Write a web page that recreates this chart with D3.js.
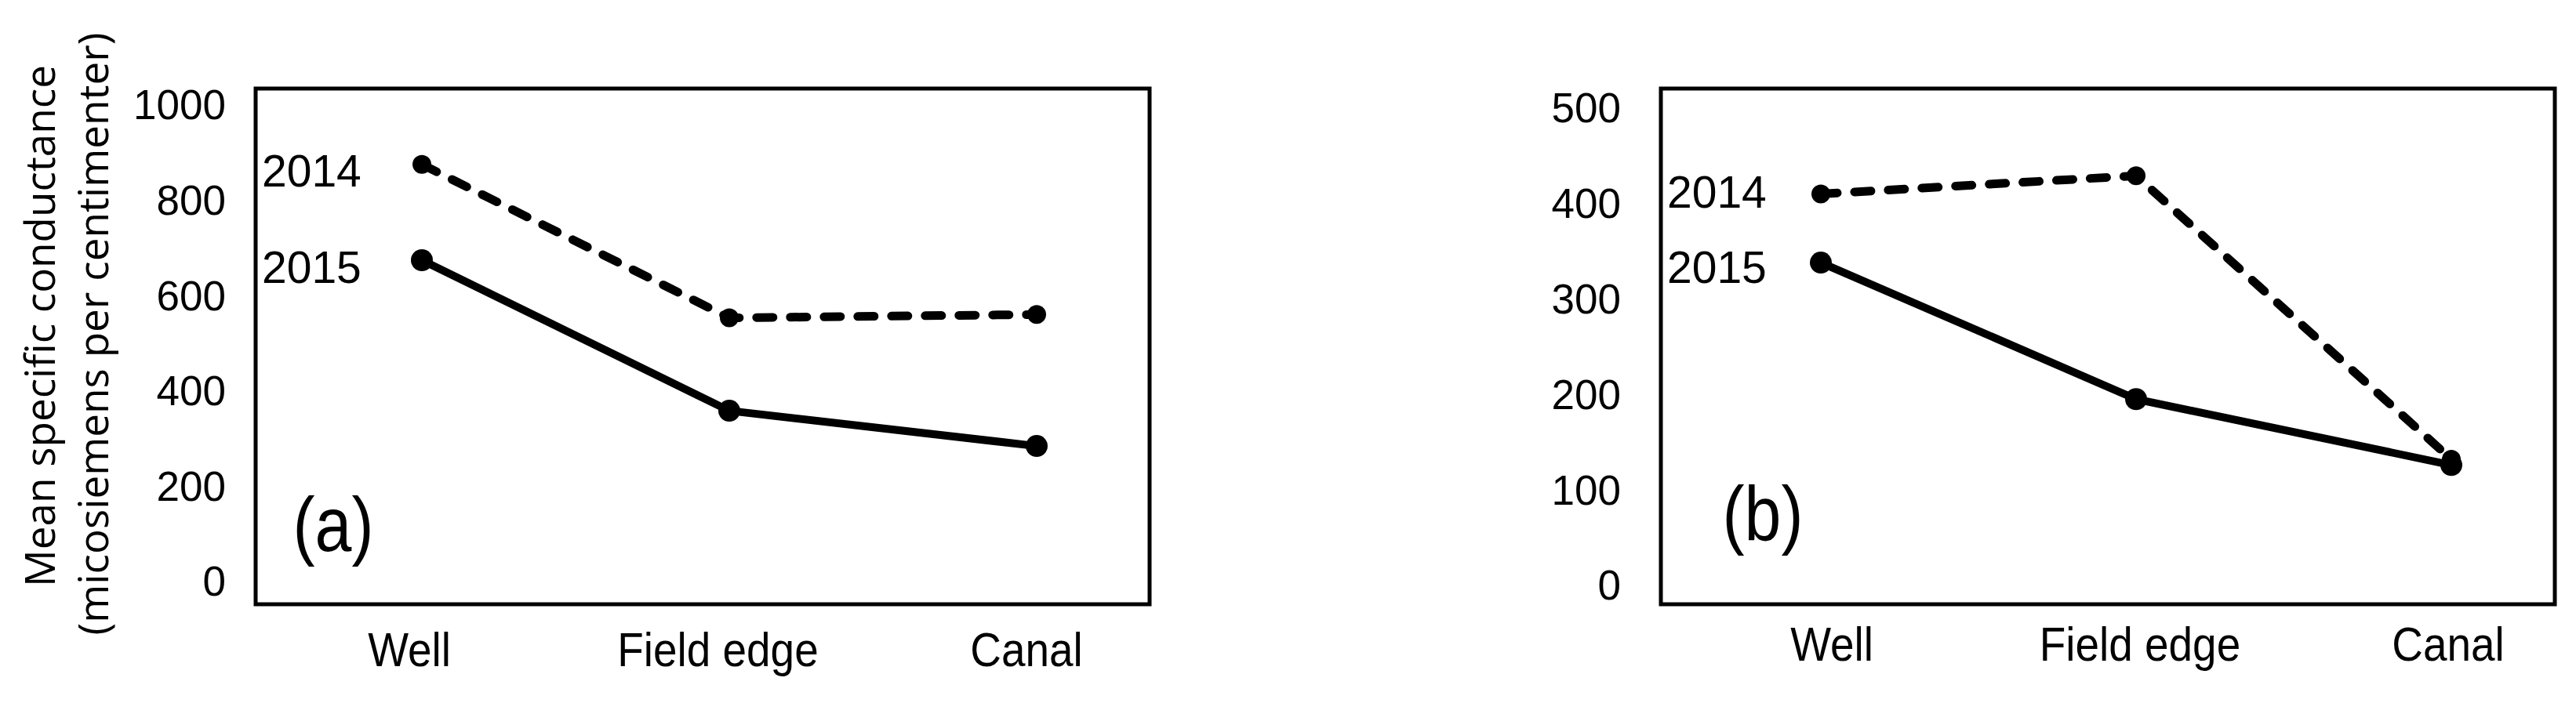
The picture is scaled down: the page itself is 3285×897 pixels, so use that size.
<!DOCTYPE html>
<html>
<head>
<meta charset="utf-8">
<script src="https://cdn.jsdelivr.net/npm/d3@7"></script>
<style>
  html, body { margin: 0; padding: 0; background: #fff; }
  svg { display: block; }
</style>
</head>
<body>
<svg id="chart" width="3285" height="897"></svg>
<script>
// ---- data ----
const categories = ["Well", "Field edge", "Canal"];
const years = ["2014", "2015"];
const panelA2014 = [877, 555, 562];
const panelA2015 = [676, 360, 286];
const panelB2014 = [411, 430, 133];
const panelB2015 = [339, 196, 127];
const ticksA = [0, 200, 400, 600, 800, 1000];
const ticksB = [0, 100, 200, 300, 400, 500];
const panelLabels = ["(a)", "(b)"];
const yTitle1 = "Mean specific conductance";
const yTitle2 = "(micosiemens per centimenter)";

// ---- layout ----
const svg = d3.select("#chart");
const panels = [
  { label: panelLabels[0], s2014: panelA2014, s2015: panelA2015, ticks: ticksA, max: 1000,
    box: [326, 113, 1466, 771], yRange: [743, 135], pts: [538, 1322], cats: [522, 1309], catY: 850,
    tickRight: 288, yearX: 334, yearY: [238, 361], tag: [425, 703] },
  { label: panelLabels[1], s2014: panelB2014, s2015: panelB2015, ticks: ticksB, max: 500,
    box: [2118, 113, 3258, 771], yRange: [748, 139], pts: [2322, 3126], cats: [2336, 3122], catY: 843,
    tickRight: 2067, yearX: 2126, yearY: [265, 361], tag: [2248, 689] }
];

panels.forEach(p => {
  const g = svg.append("g");
  const x = d3.scalePoint().domain(categories).range(p.pts);
  const xl = d3.scalePoint().domain(categories).range(p.cats);
  const y = d3.scaleLinear().domain([0, p.max]).range(p.yRange);

  // frame
  g.append("rect")
    .attr("x", p.box[0]).attr("y", p.box[1])
    .attr("width", p.box[2] - p.box[0]).attr("height", p.box[3] - p.box[1])
    .attr("fill", "none").attr("stroke", "#000").attr("stroke-width", 5);

  // y axis labels
  const ax = g.append("g")
    .attr("transform", `translate(${p.tickRight},0)`)
    .call(d3.axisLeft(y).tickValues(p.ticks).tickSize(0).tickPadding(0).tickFormat(d3.format("d")));
  ax.select(".domain").remove();
  ax.selectAll("text")
    .attr("font-family", "'Liberation Sans', Arial, sans-serif")
    .attr("font-size", 53).attr("fill", "#000");

  // category labels
  categories.forEach(c => {
    g.append("text")
      .attr("transform", `translate(${xl(c)},${p.catY}) scale(0.9,1)`)
      .attr("text-anchor", "middle")
      .attr("font-family", "'Liberation Sans', Arial, sans-serif")
      .attr("font-size", 61).attr("fill", "#000")
      .text(c);
  });

  const line = d3.line().x((d, i) => x(categories[i])).y(d => y(d));

  // 2014 dashed
  g.append("path").datum(p.s2014).attr("d", line)
    .attr("fill", "none").attr("stroke", "#000").attr("stroke-width", 11)
    .attr("stroke-dasharray", "21,22").attr("stroke-linecap", "round");
  g.selectAll(".m14").data(p.s2014).enter().append("circle")
    .attr("cx", (d, i) => x(categories[i])).attr("cy", d => y(d)).attr("r", 12).attr("fill", "#000");

  // 2015 solid
  g.append("path").datum(p.s2015).attr("d", line)
    .attr("fill", "none").attr("stroke", "#000").attr("stroke-width", 10)
    .attr("stroke-linejoin", "round");
  g.selectAll(".m15").data(p.s2015).enter().append("circle")
    .attr("cx", (d, i) => x(categories[i])).attr("cy", d => y(d)).attr("r", 14).attr("fill", "#000");

  // year labels
  years.forEach((yr, i) => {
    g.append("text")
      .attr("x", p.yearX).attr("y", p.yearY[i])
      .attr("font-family", "'Liberation Sans', Arial, sans-serif")
      .attr("font-size", 57).attr("fill", "#000")
      .text(yr);
  });

  // panel tag
  g.append("text")
    .attr("transform", `translate(${p.tag[0]},${p.tag[1]}) scale(0.86,1)`)
    .attr("text-anchor", "middle")
    .attr("font-family", "'Liberation Sans', Arial, sans-serif")
    .attr("font-size", 98).attr("fill", "#000")
    .text(p.label);
});

// y axis title
svg.append("text")
  .attr("transform", "translate(70,416) rotate(-90)")
  .attr("text-anchor", "middle")
  .attr("font-family", "'Open Sans', sans-serif")
  .attr("font-size", 53).attr("fill", "#000")
  .text(yTitle1);
svg.append("text")
  .attr("transform", "translate(138,426) rotate(-90)")
  .attr("text-anchor", "middle")
  .attr("font-family", "'Open Sans', sans-serif")
  .attr("font-size", 53).attr("fill", "#000")
  .text(yTitle2);
</script>
</body>
</html>
